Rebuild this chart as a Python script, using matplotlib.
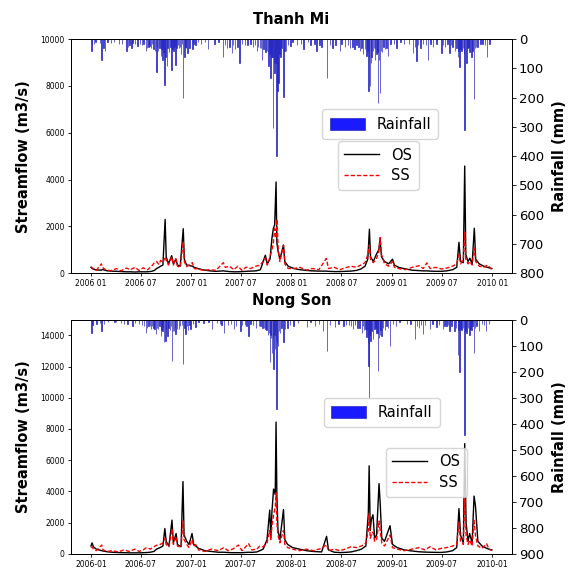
import matplotlib
matplotlib.use("Agg")
import matplotlib.pyplot as plt
import matplotlib.dates as mdates
import pandas as pd

# ---- Thanh Mi: observed (OS) and simulated (SS) streamflow, m3/s
tm_dates = [
    "2006-01-01", "2006-01-08", "2006-01-20", "2006-02-08", "2006-02-12", "2006-02-25",
    "2006-03-15", "2006-04-05", "2006-04-20", "2006-05-10", "2006-05-25", "2006-06-10",
    "2006-06-25", "2006-07-10", "2006-07-25", "2006-08-10", "2006-08-20", "2006-08-28",
    "2006-09-05", "2006-09-12", "2006-09-20", "2006-09-28", "2006-10-02", "2006-10-10",
    "2006-10-22", "2006-10-28", "2006-11-06", "2006-11-12", "2006-11-22", "2006-12-03",
    "2006-12-07", "2006-12-15", "2007-01-05", "2007-01-12", "2007-01-25", "2007-02-15",
    "2007-03-10", "2007-04-01", "2007-04-28", "2007-05-05", "2007-05-20", "2007-06-05",
    "2007-06-20", "2007-07-05", "2007-07-20", "2007-08-05", "2007-08-25", "2007-09-10",
    "2007-09-28", "2007-10-05", "2007-10-15", "2007-10-22", "2007-10-27", "2007-11-01",
    "2007-11-06", "2007-11-09", "2007-11-14", "2007-11-20", "2007-12-03", "2007-12-08",
    "2007-12-20", "2008-01-10", "2008-02-01", "2008-02-25", "2008-03-15", "2008-04-10",
    "2008-05-07", "2008-05-15", "2008-06-05", "2008-06-25", "2008-07-15", "2008-08-05",
    "2008-08-25", "2008-09-10", "2008-09-25", "2008-10-05", "2008-10-11", "2008-10-15",
    "2008-10-25", "2008-11-05", "2008-11-14", "2008-11-19", "2008-11-24", "2008-12-05",
    "2008-12-20", "2009-01-03", "2009-01-10", "2009-01-25", "2009-02-20", "2009-03-15",
    "2009-04-10", "2009-04-25", "2009-05-08", "2009-05-20", "2009-06-10", "2009-06-30",
    "2009-07-20", "2009-08-10", "2009-08-25", "2009-09-02", "2009-09-08", "2009-09-18",
    "2009-09-23", "2009-09-27", "2009-10-05", "2009-10-12", "2009-10-20", "2009-10-28",
    "2009-11-02", "2009-11-15", "2009-12-01", "2009-12-15", "2009-12-31",
]
tm_os = [
    250, 180, 140, 130, 160, 110, 90, 80, 70, 60, 60, 50,
    60, 60, 60, 80, 120, 200, 250, 300, 350, 2300, 700, 400,
    750, 400, 600, 350, 300, 1900, 600, 350, 300, 250, 200, 140,
    100, 80, 100, 90, 70, 60, 60, 70, 80, 90, 100, 150,
    770, 400, 600, 1500, 1900, 2080, 3900, 1300, 900, 600, 1200, 500,
    300, 200, 150, 120, 100, 90, 90, 80, 70, 70, 80, 90,
    120, 180, 300, 600, 1880, 700, 500, 800, 1000, 1450, 700, 500,
    400, 600, 350, 250, 180, 130, 110, 100, 100, 90, 80, 80,
    100, 150, 250, 1320, 500, 450, 4580, 800, 500, 640, 400, 1920,
    600, 400, 300, 250, 200,
]
tm_ss = [
    280, 200, 120, 400, 250, 130, 110, 200, 100, 220, 150, 250,
    120, 230, 140, 300, 450, 500, 380, 550, 450, 700, 550, 350,
    700, 350, 620, 300, 250, 1350, 500, 280, 450, 200, 180, 120,
    150, 120, 450, 250, 300, 150, 300, 120, 260, 200, 300, 350,
    650, 350, 700, 1000, 1300, 1900, 1500, 2300, 1000, 500, 1200, 400,
    200, 200, 250, 130, 200, 150, 630, 200, 250, 150, 230, 300,
    250, 350, 450, 800, 1200, 600, 450, 600, 900, 1520, 800, 400,
    300, 500, 250, 200, 150, 250, 320, 200, 440, 200, 250, 180,
    220, 300, 400, 800, 400, 600, 1750, 600, 400, 500, 350, 1070,
    500, 300, 250, 350, 150,
]

# ---- Thanh Mi: daily rainfall, mm (heavier days)
tm_rain_dates = [
    "2006-01-03", "2006-01-11", "2006-02-09", "2006-02-15", "2006-02-21", "2006-03-15",
    "2006-04-14", "2006-05-11", "2006-05-21", "2006-05-29", "2006-06-10", "2006-06-19",
    "2006-07-05", "2006-07-20", "2006-07-30", "2006-08-07", "2006-08-17", "2006-08-27",
    "2006-09-03", "2006-09-12", "2006-09-18", "2006-09-26", "2006-09-30", "2006-10-04",
    "2006-10-13", "2006-10-22", "2006-10-28", "2006-11-05", "2006-11-17", "2006-11-25",
    "2006-12-03", "2006-12-07", "2006-12-18", "2006-12-25", "2007-01-05", "2007-01-16",
    "2007-02-05", "2007-03-03", "2007-03-27", "2007-04-26", "2007-05-11", "2007-05-30",
    "2007-06-10", "2007-06-26", "2007-07-15", "2007-08-14", "2007-08-29", "2007-09-08",
    "2007-09-16", "2007-09-28", "2007-10-10", "2007-10-16", "2007-10-21", "2007-10-26",
    "2007-10-31", "2007-11-04", "2007-11-07", "2007-11-12", "2007-11-15", "2007-11-22",
    "2007-12-03", "2007-12-12", "2007-12-28", "2008-01-21", "2008-02-14", "2008-03-11",
    "2008-04-02", "2008-04-20", "2008-05-09", "2008-05-30", "2008-06-26", "2008-07-14",
    "2008-08-01", "2008-08-18", "2008-09-07", "2008-09-17", "2008-10-01", "2008-10-07",
    "2008-10-13", "2008-10-19", "2008-10-31", "2008-11-06", "2008-11-12", "2008-11-18",
    "2008-11-26", "2008-12-06", "2008-12-18", "2009-01-18", "2009-02-14", "2009-03-19",
    "2009-03-31", "2009-04-15", "2009-05-13", "2009-05-30", "2009-06-30", "2009-07-14",
    "2009-07-30", "2009-08-09", "2009-08-18", "2009-08-29", "2009-09-04", "2009-09-12",
    "2009-09-23", "2009-09-29", "2009-10-11", "2009-10-18", "2009-10-26", "2009-11-09",
    "2009-11-27", "2009-12-14",
]
tm_rain = [
    41, 15, 72, 30, 41, 12, 18, 41, 20, 30, 15, 24,
    20, 41, 25, 30, 35, 113, 40, 58, 70, 155, 60, 92,
    45, 104, 40, 87, 30, 50, 200, 60, 47, 30, 35, 20,
    15, 35, 15, 60, 30, 47, 35, 81, 20, 25, 41, 30,
    70, 45, 92, 132, 60, 303, 115, 80, 400, 178, 149, 60,
    197, 40, 24, 20, 35, 20, 41, 25, 132, 30, 41, 25,
    30, 35, 41, 50, 58, 178, 161, 60, 70, 50, 218, 183,
    45, 35, 58, 30, 15, 47, 75, 30, 70, 25, 47, 25,
    47, 26, 40, 60, 95, 40, 311, 80, 45, 60, 203, 26,
    15, 60,
]
# ---- Thanh Mi: daily rainfall, mm (lighter days)
tm_light_dates = [
    "2006-01-05", "2006-01-18", "2006-02-03", "2006-03-02", "2006-03-25", "2006-04-25",
    "2006-05-15", "2006-06-02", "2006-06-28", "2006-07-12", "2006-07-25", "2006-08-02",
    "2006-08-12", "2006-08-22", "2006-08-30", "2006-09-07", "2006-09-15", "2006-09-22",
    "2006-10-07", "2006-10-17", "2006-10-25", "2006-11-01", "2006-11-09", "2006-11-13",
    "2006-11-21", "2006-11-29", "2006-12-11", "2006-12-14", "2007-01-10", "2007-01-25",
    "2007-02-20", "2007-04-10", "2007-05-05", "2007-05-20", "2007-06-03", "2007-06-18",
    "2007-07-05", "2007-07-25", "2007-08-05", "2007-08-22", "2007-09-02", "2007-09-12",
    "2007-09-22", "2007-10-03", "2007-10-13", "2007-10-19", "2007-10-24", "2007-10-29",
    "2007-11-02", "2007-11-10", "2007-11-18", "2007-11-26", "2007-12-07", "2007-12-20",
    "2008-01-05", "2008-02-05", "2008-03-01", "2008-03-25", "2008-04-12", "2008-05-20",
    "2008-06-10", "2008-07-01", "2008-07-25", "2008-08-10", "2008-08-25", "2008-09-01",
    "2008-09-12", "2008-09-25", "2008-10-04", "2008-10-10", "2008-10-16", "2008-10-24",
    "2008-10-28", "2008-11-01", "2008-11-09", "2008-11-15", "2008-11-22", "2008-12-01",
    "2008-12-12", "2008-12-27", "2009-01-08", "2009-02-01", "2009-03-05", "2009-03-25",
    "2009-04-05", "2009-04-25", "2009-05-05", "2009-05-22", "2009-06-12", "2009-07-05",
    "2009-07-22", "2009-08-05", "2009-08-24", "2009-09-01", "2009-09-08", "2009-09-16",
    "2009-09-20", "2009-10-03", "2009-10-07", "2009-10-22", "2009-10-30", "2009-11-03",
    "2009-11-20", "2009-12-05", "2009-12-22",
]
tm_light = [
    20, 10, 12, 8, 10, 15, 25, 12, 18, 15, 30, 22,
    18, 40, 25, 30, 35, 45, 30, 25, 35, 25, 30, 20,
    25, 15, 25, 30, 15, 10, 8, 10, 20, 25, 20, 25,
    15, 20, 15, 20, 25, 30, 35, 40, 50, 45, 60, 80,
    60, 90, 50, 30, 40, 20, 10, 15, 10, 15, 20, 20,
    20, 15, 20, 25, 20, 25, 30, 35, 40, 60, 80, 40,
    30, 35, 45, 70, 40, 25, 30, 15, 15, 10, 15, 25,
    20, 15, 20, 15, 15, 20, 15, 20, 30, 40, 35, 30,
    50, 30, 25, 40, 30, 25, 15, 20, 15,
]

# ---- Nong Son: observed (OS) and simulated (SS) streamflow, m3/s
ns_dates = [
    "2006-01-01", "2006-01-05", "2006-01-10", "2006-01-20", "2006-02-09", "2006-02-14",
    "2006-03-01", "2006-03-20", "2006-04-10", "2006-05-02", "2006-05-20", "2006-06-10",
    "2006-06-25", "2006-07-10", "2006-07-22", "2006-08-05", "2006-08-18", "2006-08-28",
    "2006-09-10", "2006-09-20", "2006-09-27", "2006-10-02", "2006-10-12", "2006-10-23",
    "2006-10-28", "2006-11-07", "2006-11-12", "2006-11-25", "2006-12-02", "2006-12-06",
    "2006-12-16", "2006-12-24", "2007-01-04", "2007-01-10", "2007-01-17", "2007-01-28",
    "2007-02-20", "2007-03-15", "2007-04-10", "2007-04-30", "2007-05-15", "2007-06-01",
    "2007-06-22", "2007-07-05", "2007-07-29", "2007-08-10", "2007-08-28", "2007-09-08",
    "2007-09-20", "2007-10-04", "2007-10-14", "2007-10-18", "2007-10-22", "2007-10-28",
    "2007-11-03", "2007-11-06", "2007-11-09", "2007-11-13", "2007-11-20", "2007-12-03",
    "2007-12-08", "2007-12-18", "2008-01-05", "2008-01-30", "2008-02-25", "2008-03-20",
    "2008-04-20", "2008-05-08", "2008-05-15", "2008-06-05", "2008-06-25", "2008-07-15",
    "2008-08-05", "2008-08-25", "2008-09-12", "2008-09-28", "2008-10-07", "2008-10-10",
    "2008-10-14", "2008-10-18", "2008-10-24", "2008-10-30", "2008-11-06", "2008-11-15",
    "2008-11-19", "2008-11-25", "2008-12-05", "2008-12-25", "2009-01-03", "2009-01-20",
    "2009-02-15", "2009-03-15", "2009-04-10", "2009-04-30", "2009-05-20", "2009-06-10",
    "2009-06-30", "2009-07-20", "2009-08-10", "2009-08-25", "2009-09-02", "2009-09-08",
    "2009-09-18", "2009-09-23", "2009-09-28", "2009-10-05", "2009-10-11", "2009-10-20",
    "2009-10-27", "2009-11-01", "2009-11-10", "2009-11-25", "2009-12-12", "2009-12-20",
    "2009-12-31",
]
ns_os = [
    500, 700, 450, 300, 200, 180, 130, 100, 80, 70, 60, 60,
    60, 70, 80, 100, 150, 300, 400, 500, 1620, 780, 500, 2160,
    700, 1300, 600, 450, 4630, 1200, 800, 600, 1300, 600, 500, 350,
    200, 150, 100, 100, 80, 70, 70, 70, 100, 90, 120, 200,
    300, 900, 2800, 1000, 2700, 4150, 3800, 8440, 3700, 1500, 900, 2840,
    900, 600, 400, 300, 200, 150, 120, 1120, 250, 100, 80, 90,
    120, 200, 300, 500, 2580, 5640, 1500, 2200, 2500, 1000, 1200, 4500,
    3300, 1000, 800, 1800, 600, 400, 250, 180, 130, 110, 100, 90,
    90, 120, 200, 400, 2900, 1200, 700, 7060, 2000, 800, 1300, 700,
    3700, 3100, 800, 500, 350, 300, 250,
]
ns_ss = [
    400, 450, 300, 200, 560, 250, 150, 200, 120, 250, 150, 300,
    150, 250, 400, 300, 450, 550, 600, 700, 1000, 600, 450, 1600,
    600, 1100, 500, 400, 2100, 900, 600, 400, 900, 500, 600, 250,
    150, 300, 200, 400, 200, 300, 560, 200, 650, 250, 300, 500,
    450, 700, 1500, 900, 1800, 2500, 3000, 3900, 2000, 1200, 700, 1500,
    600, 400, 300, 200, 300, 200, 350, 600, 200, 300, 200, 300,
    450, 400, 500, 700, 1500, 2600, 1000, 1200, 1400, 800, 900, 2100,
    1500, 700, 500, 1200, 400, 300, 200, 300, 400, 250, 450, 250,
    350, 400, 500, 600, 2000, 800, 600, 3550, 1200, 600, 900, 500,
    2150, 1200, 500, 350, 650, 300, 200,
]

# ---- Nong Son: daily rainfall, mm (heavier days)
ns_rain_dates = [
    "2006-01-03", "2006-01-21", "2006-02-09", "2006-02-18", "2006-04-02", "2006-05-02",
    "2006-06-01", "2006-06-25", "2006-07-20", "2006-07-30", "2006-08-07", "2006-08-17",
    "2006-08-25", "2006-09-03", "2006-09-12", "2006-09-18", "2006-09-24", "2006-09-30",
    "2006-10-06", "2006-10-16", "2006-10-24", "2006-10-30", "2006-11-05", "2006-11-17",
    "2006-12-03", "2006-12-12", "2006-12-21", "2006-12-30", "2007-01-17", "2007-02-15",
    "2007-03-18", "2007-04-16", "2007-04-30", "2007-05-16", "2007-06-05", "2007-06-29",
    "2007-07-15", "2007-07-29", "2007-08-14", "2007-09-04", "2007-09-18", "2007-09-28",
    "2007-10-08", "2007-10-14", "2007-10-18", "2007-10-22", "2007-10-28", "2007-11-03",
    "2007-11-07", "2007-11-13", "2007-11-20", "2007-12-03", "2007-12-17", "2008-01-09",
    "2008-02-26", "2008-03-27", "2008-04-24", "2008-05-09", "2008-06-08", "2008-07-08",
    "2008-07-29", "2008-08-13", "2008-08-28", "2008-09-13", "2008-09-22", "2008-10-01",
    "2008-10-05", "2008-10-08", "2008-10-10", "2008-10-15", "2008-10-25", "2008-11-06",
    "2008-11-12", "2008-11-18", "2008-11-24", "2008-12-06", "2008-12-24", "2009-01-15",
    "2009-02-24", "2009-03-25", "2009-04-10", "2009-04-24", "2009-05-19", "2009-06-12",
    "2009-07-06", "2009-07-19", "2009-07-30", "2009-08-17", "2009-08-29", "2009-09-04",
    "2009-09-12", "2009-09-23", "2009-09-29", "2009-10-11", "2009-10-18", "2009-10-26",
    "2009-11-15", "2009-12-09",
]
ns_rain = [
    49, 15, 42, 17, 10, 17, 23, 15, 49, 25, 36, 30,
    55, 35, 62, 45, 87, 81, 62, 40, 158, 45, 55, 35,
    170, 55, 40, 36, 29, 12, 36, 15, 49, 20, 36, 42,
    20, 62, 20, 23, 30, 36, 60, 164, 70, 126, 190, 113,
    344, 100, 50, 87, 30, 23, 29, 23, 42, 119, 29, 23,
    20, 36, 30, 49, 40, 68, 90, 177, 300, 80, 74, 50,
    196, 60, 62, 40, 100, 25, 15, 74, 30, 55, 36, 29,
    36, 25, 42, 45, 135, 199, 40, 442, 50, 58, 40, 128,
    45, 45,
]
# ---- Nong Son: daily rainfall, mm (lighter days)
ns_light_dates = [
    "2006-01-07", "2006-02-02", "2006-03-05", "2006-03-28", "2006-04-20", "2006-05-14",
    "2006-06-10", "2006-07-05", "2006-07-14", "2006-07-25", "2006-08-03", "2006-08-12",
    "2006-08-21", "2006-08-30", "2006-09-07", "2006-09-15", "2006-09-21", "2006-10-02",
    "2006-10-10", "2006-10-20", "2006-10-27", "2006-11-02", "2006-11-10", "2006-11-22",
    "2006-11-28", "2006-12-07", "2006-12-16", "2006-12-26", "2007-01-08", "2007-01-28",
    "2007-03-05", "2007-04-05", "2007-04-22", "2007-05-25", "2007-06-14", "2007-07-05",
    "2007-07-22", "2007-08-05", "2007-08-25", "2007-09-10", "2007-09-24", "2007-10-02",
    "2007-10-11", "2007-10-16", "2007-10-25", "2007-10-31", "2007-11-05", "2007-11-10",
    "2007-11-16", "2007-11-26", "2007-12-09", "2007-12-26", "2008-01-25", "2008-03-10",
    "2008-04-10", "2008-05-20", "2008-06-20", "2008-07-18", "2008-08-05", "2008-08-20",
    "2008-09-05", "2008-09-18", "2008-09-27", "2008-10-03", "2008-10-12", "2008-10-19",
    "2008-10-29", "2008-11-02", "2008-11-09", "2008-11-15", "2008-11-21", "2008-11-29",
    "2008-12-12", "2008-12-18", "2009-01-05", "2009-01-28", "2009-03-10", "2009-04-02",
    "2009-04-16", "2009-05-02", "2009-05-28", "2009-06-22", "2009-07-12", "2009-07-25",
    "2009-08-06", "2009-08-23", "2009-09-01", "2009-09-08", "2009-09-17", "2009-09-26",
    "2009-10-04", "2009-10-14", "2009-10-22", "2009-10-30", "2009-11-05", "2009-11-25",
    "2009-12-02", "2009-12-20",
]
ns_light = [
    20, 12, 8, 10, 12, 15, 12, 20, 25, 30, 22, 25,
    35, 30, 25, 40, 30, 35, 30, 25, 45, 30, 35, 25,
    20, 30, 25, 20, 15, 10, 10, 12, 20, 15, 25, 20,
    25, 15, 30, 25, 30, 40, 50, 60, 70, 60, 80, 90,
    45, 30, 35, 20, 12, 10, 15, 20, 15, 20, 25, 20,
    30, 25, 35, 40, 60, 45, 35, 30, 50, 70, 40, 30,
    25, 30, 15, 10, 15, 25, 20, 20, 15, 20, 25, 20,
    25, 30, 40, 35, 30, 45, 30, 35, 25, 30, 25, 15,
    20, 15,
]


def draw_panel(ax, title, dates, os_vals, ss_vals, rain_dates, rain_vals,
               qmax, qticks, rmax, rticks, datefmt, rain_anchor, flow_anchor):
    t = pd.to_datetime(dates)
    ax.plot(t, os_vals, color="black", lw=1.0, label="OS", zorder=2)
    ax.plot(t, ss_vals, color="red", lw=1.0, ls=(0, (3, 1.5)), label="SS", zorder=3)
    ax.set_ylim(0, qmax)
    ax.set_yticks(qticks)
    ax.set_xlim(pd.Timestamp("2006-01-01") - pd.Timedelta(days=73),
                pd.Timestamp("2009-12-31") + pd.Timedelta(days=73))
    ax.xaxis.set_major_locator(mdates.MonthLocator(bymonth=[1, 7]))
    ax.xaxis.set_major_formatter(mdates.DateFormatter(datefmt))
    ax.tick_params(axis="both", labelsize=5.5, length=2.5, width=0.6, pad=2)
    ax.set_ylabel("Streamflow (m3/s)", fontsize=10.5, fontweight="bold", labelpad=7)
    ax.set_title(title, fontsize=10.5, fontweight="bold", pad=11)

    ax2 = ax.twinx()
    ax2.bar(pd.to_datetime(rain_dates), rain_vals, width=1.6, color="#1a1aff",
            edgecolor="#2a2ab8", linewidth=0.5, label="Rainfall")
    ax2.set_ylim(rmax, 0)
    ax2.set_yticks(rticks)
    ax2.tick_params(axis="y", labelsize=9.5, length=3, width=0.6, pad=2)
    ax2.set_ylabel("Rainfall (mm)", fontsize=10.5, fontweight="bold", labelpad=6)

    leg1 = ax2.legend(loc="upper left", bbox_to_anchor=rain_anchor, fontsize=10.5,
                      handlelength=2.4, handleheight=0.9, borderpad=0.5,
                      borderaxespad=0)
    h, l = ax.get_legend_handles_labels()
    ax2.add_artist(leg1)
    ax2.legend(h, l, loc="upper left", bbox_to_anchor=flow_anchor, fontsize=10.5,
               handlelength=2.4, borderpad=0.45, labelspacing=0.4, borderaxespad=0)
    for sp in list(ax.spines.values()) + list(ax2.spines.values()):
        sp.set_linewidth(0.7)


fig = plt.figure(figsize=(5.72, 5.68), dpi=100)
ax_top = fig.add_axes([0.124, 0.519, 0.771, 0.412])
ax_bot = fig.add_axes([0.124, 0.025, 0.771, 0.412])

draw_panel(ax_top, "Thanh Mi", tm_dates, tm_os, tm_ss,
           tm_rain_dates + tm_light_dates, tm_rain + tm_light,
           10000, [0, 2000, 4000, 6000, 8000, 10000], 800, range(0, 801, 100),
           "%Y %m", (0.57, 0.70), (0.605, 0.565))
draw_panel(ax_bot, "Nong Son", ns_dates, ns_os, ns_ss,
           ns_rain_dates + ns_light_dates, ns_rain + ns_light,
           15000, [0, 2000, 4000, 6000, 8000, 10000, 12000, 14000], 900, range(0, 901, 100),
           "%Y-%m", (0.573, 0.667), (0.714, 0.453))

fig.savefig("out.png", dpi=100)
